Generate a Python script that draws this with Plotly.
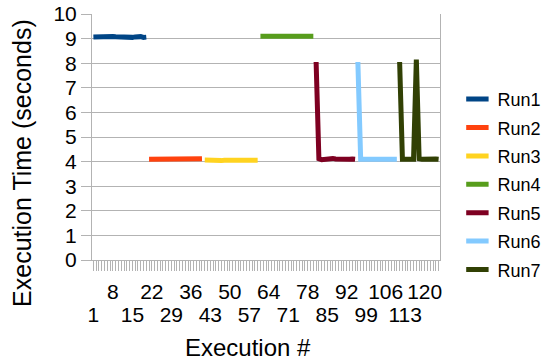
import plotly.graph_objects as go

run_names = ["Run1", "Run2", "Run3", "Run4", "Run5", "Run6", "Run7"]
colors = ["#004586", "#ff420e", "#ffd320", "#579d1c", "#7e0021", "#83caff", "#314004"]

run1 = [9.06, 9.07, 9.06, 9.05, 9.06, 9.07, 9.08, 9.09, 9.08, 9.07,
        9.06, 9.06, 9.07, 9.06, 9.05, 9.07, 9.10, 9.08, 9.05, 9.06]
run2 = [4.10, 4.10, 4.11, 4.10, 4.09, 4.10, 4.11, 4.12, 4.11, 4.10,
        4.10, 4.11, 4.10, 4.10, 4.11, 4.10, 4.09, 4.10, 4.11, 4.12]
run3 = [4.06, 4.05, 4.04, 4.05, 4.06, 4.05, 4.04, 4.05, 4.05, 4.06,
        4.05, 4.05, 4.06, 4.05, 4.05, 4.04, 4.05, 4.06, 4.05, 4.05]
run4 = [9.10, 9.10, 9.09, 9.10, 9.10, 9.11, 9.10, 9.10, 9.12, 9.14,
        9.11, 9.10, 9.10, 9.09, 9.10, 9.10, 9.11, 9.10, 9.10, 9.10]
run5 = [8.05, 4.12, 4.08, 4.10, 4.11, 4.14, 4.13, 4.11, 4.10, 4.10,
        4.11, 4.10, 4.10, 4.11, 4.10]
run6 = [8.05, 4.10, 4.10, 4.10, 4.10, 4.10, 4.10, 4.10, 4.10, 4.10,
        4.10, 4.10, 4.10, 4.10, 4.10]
run7 = [8.05, 4.10, 4.10, 4.11, 4.10, 4.10, 8.15, 4.12, 4.10, 4.11,
        4.10, 4.12, 4.10, 4.11, 4.10]

runs = [run1, run2, run3, run4, run5, run6, run7]

# staggered category labels: upper row and lower row
tick_upper = [8, 22, 36, 50, 64, 78, 92, 106, 120]
tick_lower = [1, 15, 29, 43, 57, 71, 85, 99, 113]

x_title = "Execution #"
y_title = "Execution Time (seconds)"

FONT = "Liberation Sans, Arial, sans-serif"
GRID = "#b3b3b3"

fig = go.Figure()
start = 1
for i, (name, vals, col) in enumerate(zip(run_names, runs, colors)):
    xs = list(range(start, start + len(vals)))
    start += len(vals)
    fig.add_trace(go.Scatter(x=xs, y=vals, mode="lines", name=name,
                             line=dict(color=col, width=5), showlegend=False,
                             hoverinfo="skip"))
# legend entries (no data), attached to the overlaid label axis
for name, col in zip(run_names, colors):
    fig.add_trace(go.Scatter(x=[None], y=[None], mode="markers", name=name,
                             legendgroup=name, xaxis="x2", yaxis="y",
                             marker=dict(symbol="line-ew", size=18, color=col,
                                         line=dict(color=col, width=5))))

n_total = start - 1
xr = [0.5, n_total + 0.5]

fig.update_layout(
    width=558, height=364,
    margin=dict(l=92, r=109, t=14, b=104),
    paper_bgcolor="white", plot_bgcolor="white",
    font=dict(family=FONT, size=21, color="black"),
    legend=dict(x=1.05, y=0.728, xanchor="left", yanchor="top",
                font=dict(size=18), tracegroupgap=2,
                bgcolor="rgba(0,0,0,0)"),
    xaxis=dict(
        range=xr, automargin=False,
        tickmode="array", tickvals=tick_upper, ticktext=[str(v) for v in tick_upper],
        tickangle=0, ticklabelstandoff=3,
        ticks="outside", ticklen=10, tickcolor=GRID,
        minor=dict(dtick=1, tick0=1, ticks="outside", ticklen=10, tickcolor=GRID, showgrid=False),
        showline=True, linecolor=GRID, linewidth=1,
        showgrid=False, zeroline=False,
        tickfont=dict(size=21),
    ),
    xaxis2=dict(
        range=xr, overlaying="x", matches="x", anchor="y", side="bottom",
        automargin=False,
        tickmode="array", tickvals=tick_lower, ticktext=[str(v) for v in tick_lower],
        tickangle=0, ticks="", ticklabelstandoff=40,
        showline=False, showgrid=False, zeroline=False,
        tickfont=dict(size=21),
    ),
    yaxis=dict(
        range=[0, 10], dtick=1, tick0=0, automargin=False,
        ticks="outside", ticklen=10, tickcolor=GRID, ticklabeloverflow="allow",
        showline=True, linecolor=GRID, linewidth=1, mirror=True,
        showgrid=True, gridcolor=GRID, gridwidth=1, zeroline=False,
        tickfont=dict(size=21),
    ),
    annotations=[
        dict(text=x_title, xref="paper", yref="paper", x=0.4496, y=-0.3537,
             xanchor="center", yanchor="middle", showarrow=False,
             font=dict(size=24)),
        dict(text=y_title, xref="paper", yref="paper", x=-0.2017, y=0.394,
             xanchor="center", yanchor="middle", showarrow=False, textangle=-90,
             font=dict(size=25)),
    ],
)

fig.write_html("out.html", config={"displayModeBar": False},
               post_script="document.body.style.margin='0';document.documentElement.style.overflow='hidden';")
